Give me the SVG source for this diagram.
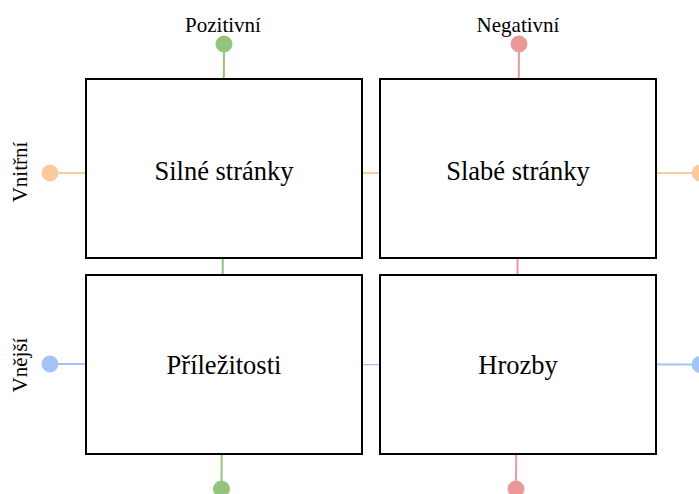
<svg xmlns="http://www.w3.org/2000/svg" width="699" height="494" viewBox="0 0 699 494">
  <style>
    .box { fill: #ffffff; stroke: #000000; stroke-width: 2; }
    text { font-family: 'Liberation Serif', 'Times New Roman', serif; fill: #000; text-anchor: middle; }
    .lbl { font-size: 26.5px; }
    .axis { font-size: 21px; }
    .pos { stroke: #93c47d; fill: #93c47d; }
    .neg { stroke: #ea9999; fill: #ea9999; }
    .int { stroke: #f9cb9c; fill: #f9cb9c; }
    .ext { stroke: #a4c2f4; fill: #a4c2f4; }
    line { stroke-width: 2; }
    circle { stroke: none; }
  </style>

  <!-- axis guide lines with end dots, drawn beneath the quadrants -->
  <g id="connectors">
    <line class="pos" x1="224" y1="44" x2="221.5" y2="489"/>
    <circle class="pos" cx="224" cy="44" r="8"/>
    <circle class="pos" cx="221.5" cy="489" r="8"/>
    <line class="neg" x1="519" y1="44" x2="516" y2="489"/>
    <circle class="neg" cx="519" cy="44" r="8"/>
    <circle class="neg" cx="516" cy="489" r="8"/>
    <line class="int" x1="50" y1="173" x2="700" y2="173"/>
    <circle class="int" cx="50" cy="173" r="8"/>
    <circle class="int" cx="700" cy="173" r="8"/>
    <line class="ext" x1="50" y1="364" x2="700" y2="364.5"/>
    <circle class="ext" cx="50" cy="364" r="8"/>
    <circle class="ext" cx="700" cy="364.5" r="8"/>
  </g>

  <g id="axis-labels">
    <text class="axis" x="223" y="32">Pozitivní</text>
    <text class="axis" x="518" y="32">Negativní</text>
    <text class="axis" transform="translate(27,172) rotate(-90)">Vnitřní</text>
    <text class="axis" transform="translate(27,365) rotate(-90)">Vnější</text>
  </g>

  <g id="strengths">
    <rect class="box" x="86" y="79" width="276" height="179"/>
    <text class="lbl" x="224" y="180">Silné stránky</text>
  </g>
  <g id="weaknesses">
    <rect class="box" x="380" y="79" width="276" height="179"/>
    <text class="lbl" x="518" y="180">Slabé stránky</text>
  </g>
  <g id="opportunities">
    <rect class="box" x="86" y="275" width="276" height="179"/>
    <text class="lbl" x="224" y="374">Příležitosti</text>
  </g>
  <g id="threats">
    <rect class="box" x="380" y="275" width="276" height="179"/>
    <text class="lbl" x="518" y="374">Hrozby</text>
  </g>
</svg>
